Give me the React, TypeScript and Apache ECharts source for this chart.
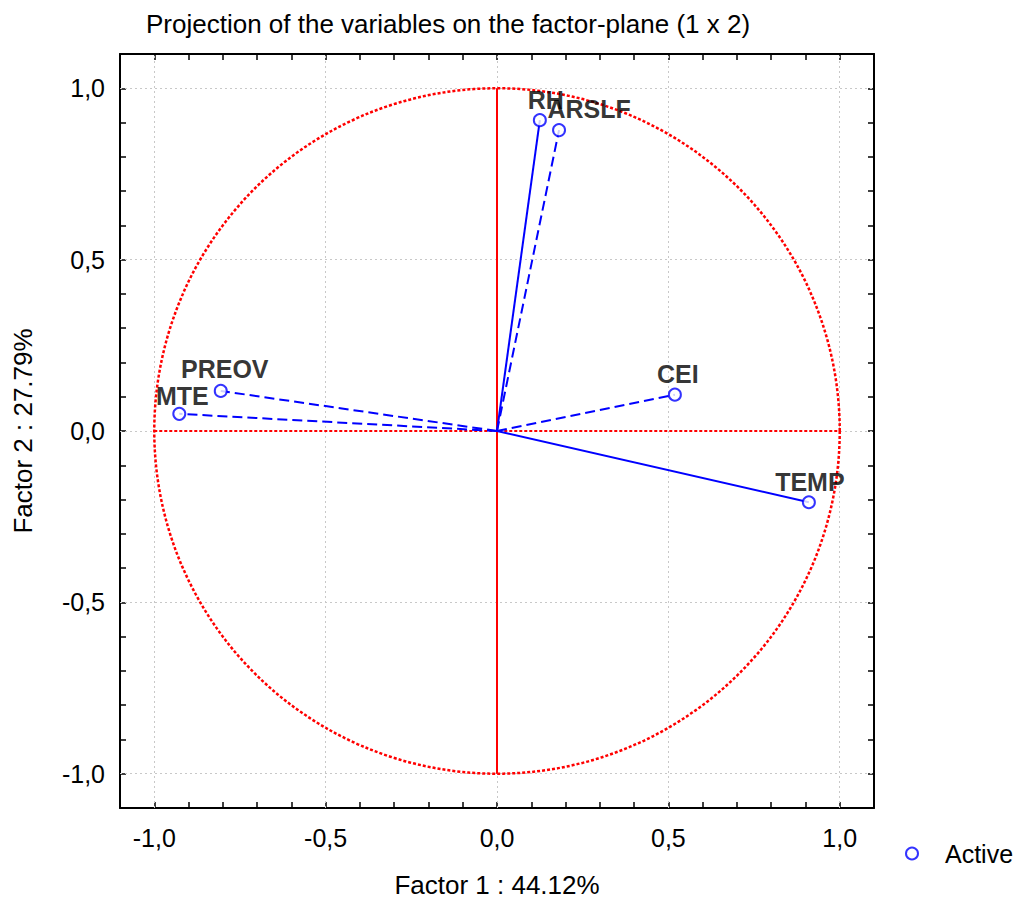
import React, { useEffect, useRef } from "react";
import * as echarts from "echarts";

// ---- data ----
const variableNames = ["RH", "ARSLF", "PREOV", "MTE", "CEI", "TEMP"];
const factor1Coords = [0.125, 0.181, -0.806, -0.927, 0.519, 0.91];
const factor2Coords = [0.907, 0.878, 0.117, 0.05, 0.106, -0.208];
const isDashed = [false, true, true, true, true, false];
const gridValues = [-1, -0.5, 0, 0.5, 1];
const axisMin = -1.1;
const axisMax = 1.1;
const tickStep = 0.1;
const circleRadius = 1;

const titleText = "Projection of the variables on the factor-plane (1 x 2)";
const xName = "Factor 1 : 44.12%";
const yName = "Factor 2 : 27.79%";
const legendName = "Active";

// ---- styles ----
const FONT = "'Liberation Sans', Arial, Helvetica, sans-serif";
const BLUE = "#0000ff";
const RED = "#ff0000";
const labelOffsets: [number, number][] = [
  [6, -20],
  [30, -21],
  [4, -22],
  [3, -18],
  [3, -21],
  [1, -20],
];

const fmt = (v: number) => {
  const r = Math.round(v * 10);
  if (r % 5 !== 0) return "";
  return (r / 10).toFixed(1).replace(".", ",");
};

const baseAxis = (extra: any) => ({
  type: "value",
  min: axisMin,
  max: axisMax,
  interval: tickStep,
  axisLine: { show: true, onZero: false, lineStyle: { color: "#000", width: 2 } },
  axisTick: { show: true, inside: true, length: 6, lineStyle: { color: "#000", width: 1.5 } },
  splitLine: { show: false },
  ...extra,
});

export default function App() {
  const ref = useRef<HTMLDivElement>(null);
  useEffect(() => {
    if (!ref.current) return;
    const chart = echarts.init(ref.current, undefined, { renderer: "svg" });

    const vectorSeries = variableNames.map((name, i) => ({
      name: "vec-" + name,
      type: "line",
      xAxisIndex: 0,
      yAxisIndex: 0,
      data: [
        [0, 0],
        [factor1Coords[i], factor2Coords[i]],
      ],
      symbol: "none",
      silent: true,
      z: 4,
      lineStyle: { color: BLUE, width: 2, type: isDashed[i] ? [10, 5] : "solid" },
    }));

    const option: any = {
      animation: false,
      backgroundColor: "#fff",
      textStyle: { fontFamily: FONT },
      title: {
        text: titleText,
        left: 146,
        top: 11,
        padding: 0,
        textStyle: { fontSize: 26, fontWeight: "normal", color: "#000", fontFamily: FONT },
      },
      legend: {
        show: true,
        data: [
          {
            name: legendName,
            icon: "circle",
            itemStyle: { color: "#fff", borderColor: BLUE, borderWidth: 2 },
          },
        ],
        left: 905,
        top: 841,
        padding: 0,
        itemWidth: 12,
        itemHeight: 12,
        textStyle: { fontSize: 25, color: "#000", fontFamily: FONT, padding: [0, 0, 0, 22] },
      },
      grid: {
        left: 120,
        right: 145,
        top: 54,
        bottom: 91,
        containLabel: false,
        outerBoundsMode: "none",
      },
      xAxis: [
        baseAxis({
          position: "bottom",
          axisLabel: {
            formatter: fmt,
            fontSize: 25,
            color: "#000",
            margin: 17,
            fontFamily: FONT,
            showMinLabel: true,
            showMaxLabel: true,
          },
          name: xName,
          nameLocation: "middle",
          nameGap: 66,
          nameTextStyle: { fontSize: 26, lineHeight: 22, color: "#000", fontFamily: FONT },
        }),
        baseAxis({ position: "top", axisLabel: { show: false } }),
      ],
      yAxis: [
        baseAxis({
          position: "left",
          axisLabel: {
            formatter: fmt,
            fontSize: 25,
            color: "#000",
            margin: 15,
            fontFamily: FONT,
            showMinLabel: true,
            showMaxLabel: true,
          },
          name: yName,
          nameLocation: "middle",
          nameGap: 84,
          nameTextStyle: { fontSize: 26, color: "#000", fontFamily: FONT },
        }),
        baseAxis({ position: "right", axisLabel: { show: false } }),
      ],
      series: [
        {
          name: "ref-h",
          type: "line",
          xAxisIndex: 0,
          yAxisIndex: 0,
          data: [
            [-circleRadius, 0],
            [circleRadius, 0],
          ],
          symbol: "none",
          silent: true,
          z: 2,
          lineStyle: { color: RED, width: 2, type: [3, 2] },
          markLine: {
            silent: true,
            symbol: "none",
            label: { show: false },
            z: 1,
            lineStyle: { color: "#c8c8c8", width: 1, type: [2, 3] },
            data: [
              ...gridValues.map((v) => ({ xAxis: v })),
              ...gridValues.map((v) => ({ yAxis: v })),
            ],
          },
        },
        {
          name: "ref-v",
          type: "line",
          xAxisIndex: 0,
          yAxisIndex: 0,
          data: [
            [0, -circleRadius],
            [0, circleRadius],
          ],
          symbol: "none",
          silent: true,
          z: 3,
          lineStyle: { color: RED, width: 2, type: "solid" },
        },
        {
          name: "circle",
          type: "custom",
          xAxisIndex: 0,
          yAxisIndex: 0,
          silent: true,
          z: 2,
          data: [[0, 0]],
          renderItem: (params: any, api: any) => {
            const c = api.coord([api.value(0), api.value(1)]);
            const s = api.size([circleRadius, circleRadius]);
            return {
              type: "circle",
              shape: { cx: c[0], cy: c[1], r: (s[0] + s[1]) / 2 },
              style: { fill: "none", stroke: RED, lineWidth: 2.5, lineDash: [3, 2] },
            };
          },
        },
        ...vectorSeries,
        {
          name: legendName,
          type: "scatter",
          xAxisIndex: 0,
          yAxisIndex: 0,
          z: 6,
          symbol: "circle",
          symbolSize: 12,
          itemStyle: { color: "#fff", borderColor: BLUE, borderWidth: 2 },
          data: variableNames.map((n, i) => ({
            name: n,
            value: [factor1Coords[i], factor2Coords[i]],
            label: {
              show: true,
              formatter: n,
              position: "inside",
              offset: labelOffsets[i],
              fontSize: 25,
              fontWeight: "bold",
              color: "#000",
              textBorderWidth: 0,
              fontFamily: FONT,
            },
          })),
        },
      ],
    };
    chart.setOption(option);
    return () => chart.dispose();
  }, []);
  return (
    <div
      ref={ref}
      style={{ position: "absolute", left: 0, top: 0, width: 1019, height: 899 }}
    />
  );
}
